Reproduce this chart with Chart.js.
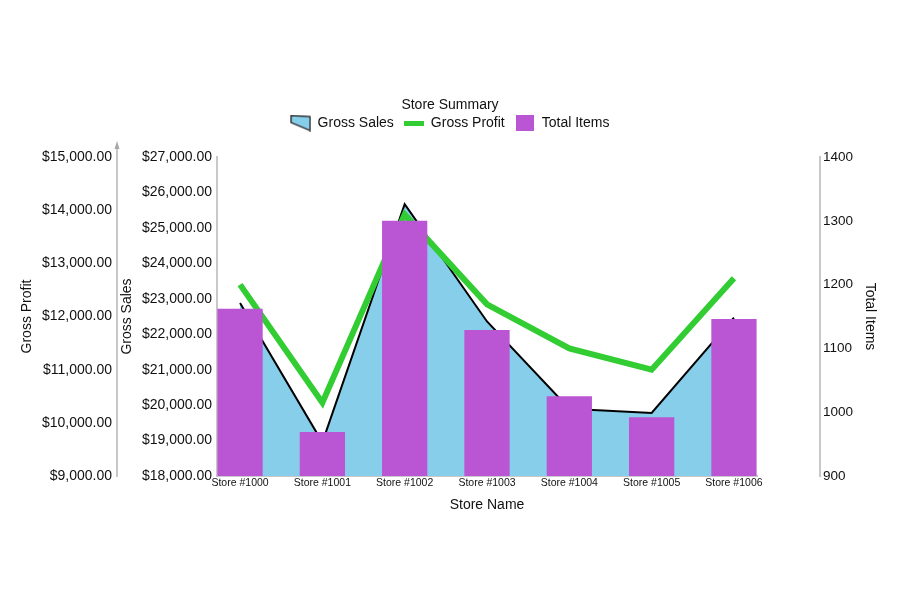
<!DOCTYPE html>
<html lang="en">
<head>
<meta charset="utf-8">
<title>Store Summary</title>
<script src="https://cdn.jsdelivr.net/npm/chart.js"></script>
<style>
  html, body { margin: 0; padding: 0; background: #fff; }
  #chartBox { width: 900px; height: 600px; }
</style>
</head>
<body>
<div id="chartBox"><canvas id="chartCanvas" width="900" height="600"></canvas></div>
<script>
  // values
  const storeNames = ['Store #1000', 'Store #1001', 'Store #1002', 'Store #1003', 'Store #1004', 'Store #1005', 'Store #1006'];
  const grossSales = [22880, 18950, 25670, 22360, 19900, 19780, 22470];
  const grossProfit = [12600, 10380, 13920, 12230, 11400, 11000, 12720];
  const totalItems = [1162, 969, 1300, 1129, 1025, 992, 1146];

  // axis ranges and tick steps
  const salesRange = [18000, 27000, 1000];
  const profitRange = [9000, 15000, 1000];
  const itemsRange = [900, 1400, 100];

  const toPoints = values => values.map((v, i) => ({x: i, y: v}));
  const money = v => '$' + v.toLocaleString('en-US', {minimumFractionDigits: 2, maximumFractionDigits: 2});

  function makeIcon(w, h, draw) {
    const c = document.createElement('canvas');
    c.width = w;
    c.height = h;
    draw(c.getContext('2d'));
    return c;
  }

  // legend icons
  const legendIcons = [
    makeIcon(21, 17, ctx => {
      ctx.beginPath();
      ctx.moveTo(1, 1);
      ctx.lineTo(20, 2);
      ctx.lineTo(20, 16);
      ctx.lineTo(1, 8);
      ctx.closePath();
      ctx.fillStyle = '#87CEEB';
      ctx.fill();
      ctx.strokeStyle = '#222';
      ctx.lineWidth = 1.3;
      ctx.stroke();
    }),
    makeIcon(20, 5, ctx => {
      ctx.fillStyle = '#32CD32';
      ctx.fillRect(0, 0, 20, 5);
    }),
    makeIcon(18, 16, ctx => {
      ctx.fillStyle = '#BA55D3';
      ctx.fillRect(0, 0, 18, 16);
    })
  ];

  // little arrow on top of the gross profit axis
  const axisArrow = {
    id: 'axisArrow',
    afterDraw(chart) {
      const s = chart.scales.profit;
      const ctx = chart.ctx;
      const x = Math.round(s.right);
      const top = s.top;
      ctx.save();
      ctx.strokeStyle = '#c8c8c8';
      ctx.lineWidth = 2;
      ctx.beginPath();
      ctx.moveTo(x, top);
      ctx.lineTo(x, top - 10);
      ctx.stroke();
      ctx.fillStyle = '#a8a8a8';
      ctx.beginPath();
      ctx.moveTo(x, top - 16);
      ctx.lineTo(x - 2.5, top - 8);
      ctx.lineTo(x + 2.5, top - 8);
      ctx.closePath();
      ctx.fill();
      ctx.restore();
    }
  };

  Chart.defaults.font.family = "'Liberation Sans', Arial, sans-serif";
  Chart.defaults.color = '#111';

  const axisLine = {display: true, color: '#c8c8c8', width: 2};
  const noGrid = {display: false, drawTicks: false};

  const ctx = document.getElementById('chartCanvas').getContext('2d');
  const chart = new Chart(ctx, {
    type: 'bar',
    data: {
      datasets: [{
        type: 'line',
        label: 'Gross Sales',
        data: toPoints(grossSales),
        yAxisID: 'sales',
        borderColor: '#000',
        borderWidth: 2,
        backgroundColor: '#87CEEB',
        fill: 'start',
        pointRadius: 0,
        tension: 0,
        order: 3
      }, {
        type: 'line',
        label: 'Gross Profit',
        data: toPoints(grossProfit),
        yAxisID: 'profit',
        borderColor: '#32CD32',
        borderWidth: 6,
        fill: false,
        pointRadius: 0,
        tension: 0,
        order: 2
      }, {
        type: 'bar',
        label: 'Total Items',
        data: toPoints(totalItems),
        yAxisID: 'items',
        backgroundColor: '#BA55D3',
        borderWidth: 0,
        categoryPercentage: 1,
        barPercentage: 0.55,
        order: 1
      }]
    },
    options: {
      responsive: false,
      animation: false,
      layout: {padding: 0},
      plugins: {
        title: {
          display: true,
          text: 'Store Summary',
          font: {size: 14, weight: 'normal'},
          color: '#111',
          padding: {top: 96.6, bottom: -7.4}
        },
        legend: {
          display: true,
          position: 'top',
          labels: {
            font: {size: 14},
            color: '#111',
            padding: 10,
            usePointStyle: true,
            pointStyleWidth: 20,
            generateLabels: c => c.data.datasets.map((ds, i) => ({
              text: ds.label,
              pointStyle: legendIcons[i],
              fillStyle: 'transparent',
              strokeStyle: 'transparent',
              lineWidth: 0,
              hidden: false,
              datasetIndex: i,
              fontColor: '#111'
            }))
          }
        },
        // empty subtitle used as a gap between legend and plot
        subtitle: {
          display: true,
          text: '',
          weight: 500,
          font: {size: 10, lineHeight: 1},
          padding: {top: 7, bottom: 0}
        },
        tooltip: {enabled: false}
      },
      scales: {
        x: {
          type: 'linear',
          position: 'bottom',
          offset: false,
          min: -0.28,
          max: 6.28,
          afterBuildTicks: s => { s.ticks = storeNames.map((_, i) => ({value: i})); },
          afterFit: s => { s.height = 124; },
          grid: noGrid,
          border: axisLine,
          ticks: {
            autoSkip: false,
            maxRotation: 0,
            padding: 1,
            font: {size: 10.5},
            callback: v => storeNames[v]
          },
          title: {
            display: true,
            text: 'Store Name',
            font: {size: 14},
            padding: {top: 0, bottom: 86.6}
          }
        },
        profit: {
          type: 'linear',
          position: 'left',
          weight: 1,
          min: profitRange[0],
          max: profitRange[1],
          afterFit: s => { s.width = 117; },
          grid: noGrid,
          border: axisLine,
          ticks: {stepSize: profitRange[2], padding: 5, font: {size: 14}, callback: money},
          title: {display: true, text: 'Gross Profit', font: {size: 14}, padding: {top: 18.6, bottom: 0}}
        },
        sales: {
          type: 'linear',
          position: 'left',
          weight: 0,
          min: salesRange[0],
          max: salesRange[1],
          afterFit: s => { s.width = 100; },
          grid: noGrid,
          border: axisLine,
          ticks: {stepSize: salesRange[2], padding: 5, font: {size: 14}, callback: money},
          title: {display: true, text: 'Gross Sales', font: {size: 14}, padding: {top: 1.3, bottom: 0}}
        },
        gap: {
          type: 'linear',
          position: 'right',
          weight: 0,
          afterFit: s => { s.width = 63; },
          grid: {display: false, drawTicks: false},
          border: {display: false},
          ticks: {display: false}
        },
        items: {
          type: 'linear',
          position: 'right',
          weight: 1,
          min: itemsRange[0],
          max: itemsRange[1],
          afterFit: s => { s.width = 80; },
          grid: noGrid,
          border: axisLine,
          ticks: {stepSize: itemsRange[2], padding: 3, font: {size: 13.5}, callback: v => String(v)},
          title: {display: true, text: 'Total Items', font: {size: 14}, padding: {top: 21.6, bottom: 0}}
        }
      }
    },
    plugins: [axisArrow]
  });
</script>
</body>
</html>
